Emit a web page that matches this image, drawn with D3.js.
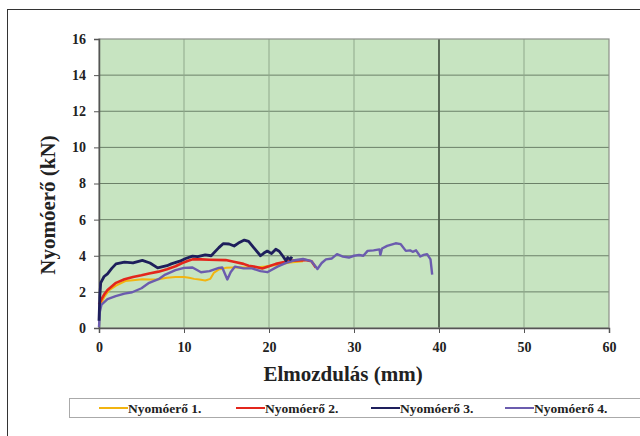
<!DOCTYPE html>
<html>
<head>
<meta charset="utf-8">
<script src="https://cdn.jsdelivr.net/npm/d3@7"></script>
<style>
  body { margin: 0; background: #fff; }
  svg { display: block; }
  text { font-family: "Liberation Serif", "Times New Roman", serif; font-weight: bold; fill: #222; }
</style>
</head>
<body>
<div id="chart"></div>
<script>
const width = 640;
const height = 436;

// Series names and colours
const seriesNames = ["Nyomóerő 1.", "Nyomóerő 2.", "Nyomóerő 3.", "Nyomóerő 4."];
const seriesColors = ["#f2b410", "#e3261c", "#1e1f5c", "#6b5cae"];

const xTicks = [0, 10, 20, 30, 40, 50, 60];
const yTicks = [0, 2, 4, 6, 8, 10, 12, 14, 16];

// [elmozdulás mm, nyomóerő kN]
const series1 = [
  [0, 0.9], [0.3, 1.4], [0.6, 1.7], [1.2, 2.1], [2, 2.35], [3.1, 2.6], [4, 2.65], [5.1, 2.7],
  [6, 2.68], [7, 2.7], [8, 2.78], [9, 2.83], [10, 2.82], [10.6, 2.78], [11.2, 2.72], [11.8, 2.68],
  [12.5, 2.63], [13.1, 2.72], [13.5, 3.05], [14.1, 3.24], [14.9, 3.33], [16.5, 3.37], [18, 3.33],
  [19.5, 3.4], [21, 3.5], [22.5, 3.62], [24, 3.7]
];
const series2 = [
  [0, 1.3], [0.3, 1.6], [0.6, 1.85], [1, 2.1], [2, 2.5], [3, 2.7], [4, 2.82], [5, 2.92], [5.9, 3.02],
  [7, 3.12], [8, 3.25], [9, 3.42], [9.8, 3.6], [10.5, 3.72], [11, 3.8], [12, 3.8], [13, 3.78],
  [14.9, 3.76], [16, 3.65], [17, 3.55], [17.6, 3.45], [18.5, 3.38], [19.2, 3.3], [20, 3.42],
  [20.8, 3.55], [21.8, 3.65], [22.7, 3.73], [24.3, 3.76], [25, 3.7], [25.5, 3.35]
];
const series3 = [
  [0, 0.4], [0.1, 1.8], [0.2, 2.5], [0.6, 2.85], [1, 3.0], [1.5, 3.3], [2, 3.55], [3, 3.65],
  [4, 3.6], [5.1, 3.74], [6, 3.6], [6.9, 3.33], [7.5, 3.4], [8, 3.45], [8.5, 3.55], [9.5, 3.7],
  [10.2, 3.85], [11, 3.98], [11.6, 3.95], [12.5, 4.05], [13.2, 4.0], [14.1, 4.45], [14.6, 4.67],
  [15.3, 4.65], [15.9, 4.54], [16.4, 4.7], [17.1, 4.87], [17.6, 4.8], [18.2, 4.45], [19.0, 4.0],
  [19.4, 4.15], [19.8, 4.26], [20.3, 4.12], [20.8, 4.36], [21.2, 4.25], [21.6, 4.0], [22.0, 3.73],
  [22.2, 3.9], [22.5, 3.8], [22.7, 3.95]
];
const series4 = [
  [0, 0.05], [0.1, 0.9], [0.3, 1.3], [1, 1.6], [1.96, 1.76], [3, 1.9], [3.9, 1.98], [5, 2.2],
  [5.9, 2.5], [7, 2.7], [7.8, 2.96], [9, 3.2], [10, 3.33], [11, 3.35], [12, 3.09], [13, 3.15],
  [14.1, 3.33], [14.5, 3.35], [15.1, 2.69], [15.5, 3.1], [16, 3.4], [17, 3.3], [18, 3.3], [19, 3.15],
  [19.8, 3.09], [21, 3.4], [22, 3.6], [23, 3.75], [24, 3.82], [25, 3.7], [25.7, 3.27], [26.2, 3.6],
  [26.7, 3.8], [27.4, 3.85], [28, 4.09], [28.7, 3.95], [29.4, 3.9], [30, 4.0], [30.6, 4.04],
  [31.1, 4.0], [31.6, 4.27], [32.3, 4.3], [33.0, 4.35], [33.1, 4.05], [33.3, 4.4], [33.9, 4.55],
  [34.9, 4.69], [35.5, 4.64], [36.1, 4.27], [36.6, 4.3], [36.9, 4.22], [37.3, 4.3], [37.8, 3.96],
  [38.2, 4.05], [38.6, 4.09], [39.0, 3.8], [39.2, 2.95]
];
const allSeries = [series1, series2, series3, series4];
const lineWidths = [2, 2.6, 2.8, 2.4];

const margin = { left: 99, right: 31, top: 39, bottom: 108 };
const plotW = width - margin.left - margin.right;
const plotH = height - margin.top - margin.bottom;

const svg = d3.select('#chart')
  .append('svg')
  .attr('width', width)
  .attr('height', height);

// outer frame
svg.append('rect')
  .attr('x', 7.5).attr('y', 9.5)
  .attr('width', 800).attr('height', 600)
  .attr('fill', '#fff')
  .attr('stroke', '#333')
  .attr('stroke-width', 1);

const x = d3.scaleLinear().domain([0, 60]).range([0, plotW]);
const y = d3.scaleLinear().domain([0, 16]).range([plotH, 0]);

const g = svg.append('g')
  .attr('transform', `translate(${margin.left},${margin.top})`);

// plot area
g.append('rect')
  .attr('width', plotW)
  .attr('height', plotH)
  .attr('fill', '#c7e4c1');

// grid
g.append('g')
  .selectAll('line')
  .data(yTicks.filter(d => d > 0 && d < 16))
  .join('line')
  .attr('x1', 0).attr('x2', plotW)
  .attr('y1', d => y(d)).attr('y2', d => y(d))
  .attr('stroke', '#6b8068')
  .attr('stroke-width', 1);

g.append('g')
  .selectAll('line')
  .data(xTicks.filter(d => d > 0 && d < 60))
  .join('line')
  .attr('x1', d => x(d)).attr('x2', d => x(d))
  .attr('y1', 0).attr('y2', plotH)
  .attr('stroke', d => d === 40 ? '#4f5f4d' : '#8fa88b')
  .attr('stroke-width', d => d === 40 ? 1.8 : 1);

// plot border
g.append('rect')
  .attr('width', plotW)
  .attr('height', plotH)
  .attr('fill', 'none')
  .attr('stroke', '#8a8f88')
  .attr('stroke-width', 1.2);

// axes
const xAxis = g.append('g')
  .attr('transform', `translate(0,${plotH})`)
  .call(d3.axisBottom(x).tickValues(xTicks).tickSize(5).tickPadding(9));
const yAxis = g.append('g')
  .call(d3.axisLeft(y).tickValues(yTicks).tickSize(5).tickPadding(8));

[xAxis, yAxis].forEach(ax => {
  ax.select('.domain').attr('stroke', '#555').attr('stroke-width', 1.5);
  ax.selectAll('.tick line').attr('stroke', '#555');
  ax.selectAll('.tick text')
    .style('font-family', '"Liberation Serif", serif')
    .style('font-weight', 'bold')
    .style('font-size', '14px')
    .attr('fill', '#1a1a1a');
});

// lines
const line = d3.line()
  .x(d => x(d[0]))
  .y(d => y(d[1]));

const drawOrder = [0, 1, 3, 2];
drawOrder.forEach(i => {
  g.append('path')
    .datum(allSeries[i])
    .attr('fill', 'none')
    .attr('stroke', seriesColors[i])
    .attr('stroke-width', lineWidths[i])
    .attr('stroke-linejoin', 'round')
    .attr('d', line);
});

// axis titles
svg.append('text')
  .attr('x', 343).attr('y', 381)
  .attr('text-anchor', 'middle')
  .style('font-size', '21px')
  .text('Elmozdulás (mm)');

svg.append('text')
  .attr('transform', 'translate(55,205) rotate(-90)')
  .attr('text-anchor', 'middle')
  .style('font-size', '21px')
  .text('Nyomóerő (kN)');

// legend
const legend = svg.append('g');
legend.append('rect')
  .attr('x', 69.5).attr('y', 398.5)
  .attr('width', 600).attr('height', 19)
  .attr('fill', '#fff')
  .attr('stroke', '#aaa');

const legendX = [99, 236, 371, 505];
seriesNames.forEach((name, i) => {
  const item = legend.append('g').attr('transform', `translate(${legendX[i]},408)`);
  item.append('line')
    .attr('x1', 0).attr('x2', 29)
    .attr('stroke', seriesColors[i])
    .attr('stroke-width', 2);
  item.append('text')
    .attr('x', 29).attr('y', 4.5)
    .style('font-size', '13.5px')
    .text(name);
});
</script>
</body>
</html>
